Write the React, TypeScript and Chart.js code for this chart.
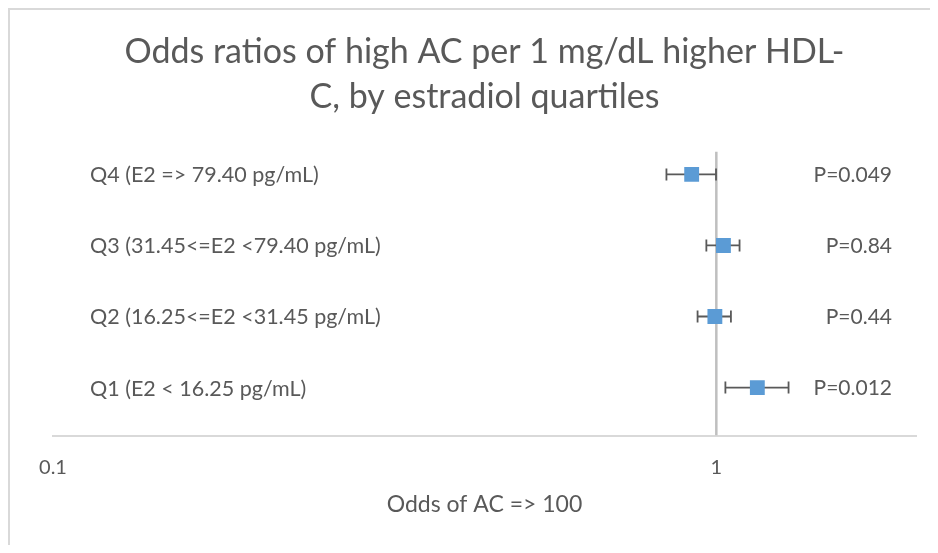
import React, { useEffect, useRef } from "react";
import { Chart, registerables } from "chart.js";

Chart.register(...registerables);

const CATEGORIES = [
  "Q4 (E2 => 79.40 pg/mL)",
  "Q3 (31.45<=E2 <79.40 pg/mL)",
  "Q2 (16.25<=E2 <31.45 pg/mL)",
  "Q1 (E2 < 16.25 pg/mL)",
];
const ROW_POS = [4, 3, 2, 1];
const ODDS = [0.918, 1.025, 0.995, 1.153];
const CI_LOW = [0.841, 0.966, 0.937, 1.032];
const CI_HIGH = [0.999, 1.084, 1.052, 1.285];
const P_LABELS = ["P=0.049", "P=0.84", "P=0.44", "P=0.012"];
const X_TICKS = [0.1, 1];
const X_MIN = 0.1;
const X_MAX = 2;
const Y_MIN = 0.324;
const Y_MAX = 4.6;
const REF_X = 1;
const REF_TOP = 4.32;

const TITLE = ["Odds ratios of high AC per 1 mg/dL higher HDL-", "C, by estradiol quartiles"];
const X_TITLE = "Odds of AC => 100";

const FONT = "Lato, 'Open Sans', sans-serif";
const TEXT = "#595959";

export default function App() {
  const ref = useRef<HTMLCanvasElement>(null);

  useEffect(() => {
    const canvas = ref.current;
    if (!canvas) return;

    const annotations = {
      id: "forestExtras",
      afterDatasetDraw(chart: any, args: any) {
        if (args.index !== 0) return;
        const ctx = chart.ctx;
        const xs = chart.scales.x;
        const ys = chart.scales.y;
        ctx.save();
        ctx.strokeStyle = "#595959";
        ctx.lineWidth = 1.8;
        for (let i = 0; i < ROW_POS.length; i++) {
          const y = ys.getPixelForValue(ROW_POS[i]);
          const x1 = xs.getPixelForValue(CI_LOW[i]);
          const x2 = xs.getPixelForValue(CI_HIGH[i]);
          ctx.beginPath();
          ctx.moveTo(x1, y);
          ctx.lineTo(x2, y);
          ctx.moveTo(x1, y - 6);
          ctx.lineTo(x1, y + 6);
          ctx.moveTo(x2, y - 6);
          ctx.lineTo(x2, y + 6);
          ctx.stroke();
        }
        ctx.restore();
      },
      afterDraw(chart: any) {
        const ctx = chart.ctx;
        const ys = chart.scales.y;
        const area = chart.chartArea;
        ctx.save();
        ctx.fillStyle = TEXT;
        ctx.textBaseline = "middle";
        for (let i = 0; i < ROW_POS.length; i++) {
          const y = ys.getPixelForValue(ROW_POS[i]);
          ctx.font = `21.5px ${FONT}`;
          ctx.textAlign = "left";
          ctx.fillText(CATEGORIES[i], area.left + 37, y + 1);
          ctx.font = `21px ${FONT}`;
          ctx.textAlign = "right";
          ctx.fillText(P_LABELS[i], area.right - 24, y + 1);
        }
        ctx.font = `23px ${FONT}`;
        ctx.textAlign = "center";
        ctx.fillText(X_TITLE, (area.left + area.right) / 2, area.bottom + 69);
        ctx.restore();
      },
    };

    const chart = new Chart(canvas, {
      type: "scatter",
      data: {
        datasets: [
          {
            type: "line",
            data: [
              { x: REF_X, y: Y_MIN },
              { x: REF_X, y: REF_TOP },
            ],
            borderColor: "#bfbfbf",
            borderWidth: 2.5,
            pointRadius: 0,
            order: 2,
          } as any,
          {
            data: ODDS.map((v, i) => ({ x: v, y: ROW_POS[i] })),
            backgroundColor: "#5b9bd5",
            borderColor: "#5b9bd5",
            pointStyle: "rect",
            pointRadius: 10.5,
            borderWidth: 0,
            order: 1,
          },
        ],
      },
      options: {
        animation: false,
        responsive: true,
        maintainAspectRatio: false,
        layout: { padding: { left: 43, right: 14, top: 0, bottom: 45.4 } },
        plugins: {
          legend: { display: false },
          tooltip: { enabled: false },
          title: {
            display: true,
            text: TITLE,
            color: TEXT,
            font: { family: FONT, size: 34, weight: "normal", lineHeight: 1.32 },
            padding: { top: 19.5, bottom: 12.5 },
          },
        },
        scales: {
          x: {
            type: "logarithmic",
            min: X_MIN,
            max: X_MAX,
            afterBuildTicks: (scale: any) => {
              scale.ticks = X_TICKS.map((v) => ({ value: v }));
            },
            ticks: {
              color: TEXT,
              font: { family: FONT, size: 20, lineHeight: 1.2 },
              padding: 20,
              autoSkip: false,
              maxRotation: 0,
              callback: (v: any) => String(v),
            },
            grid: { display: true, color: "rgba(0,0,0,0)", drawTicks: false },
            border: { display: true, color: "#d9d9d9", width: 2 },
            title: { display: false },
          },
          y: {
            type: "linear",
            min: Y_MIN,
            max: Y_MAX,
            display: false,
          },
        },
      },
      plugins: [annotations],
    } as any);

    return () => chart.destroy();
  }, []);

  return (
    <div
      style={{
        width: 922,
        height: 537,
        borderLeft: "2px solid #d9d9d9",
        borderTop: "2px solid #d9d9d9",
        boxSizing: "border-box",
        overflow: "hidden",
        background: "#fff",
      }}
    >
      <div style={{ width: 920, height: 535, position: "relative" }}>
        <canvas ref={ref} />
      </div>
    </div>
  );
}
